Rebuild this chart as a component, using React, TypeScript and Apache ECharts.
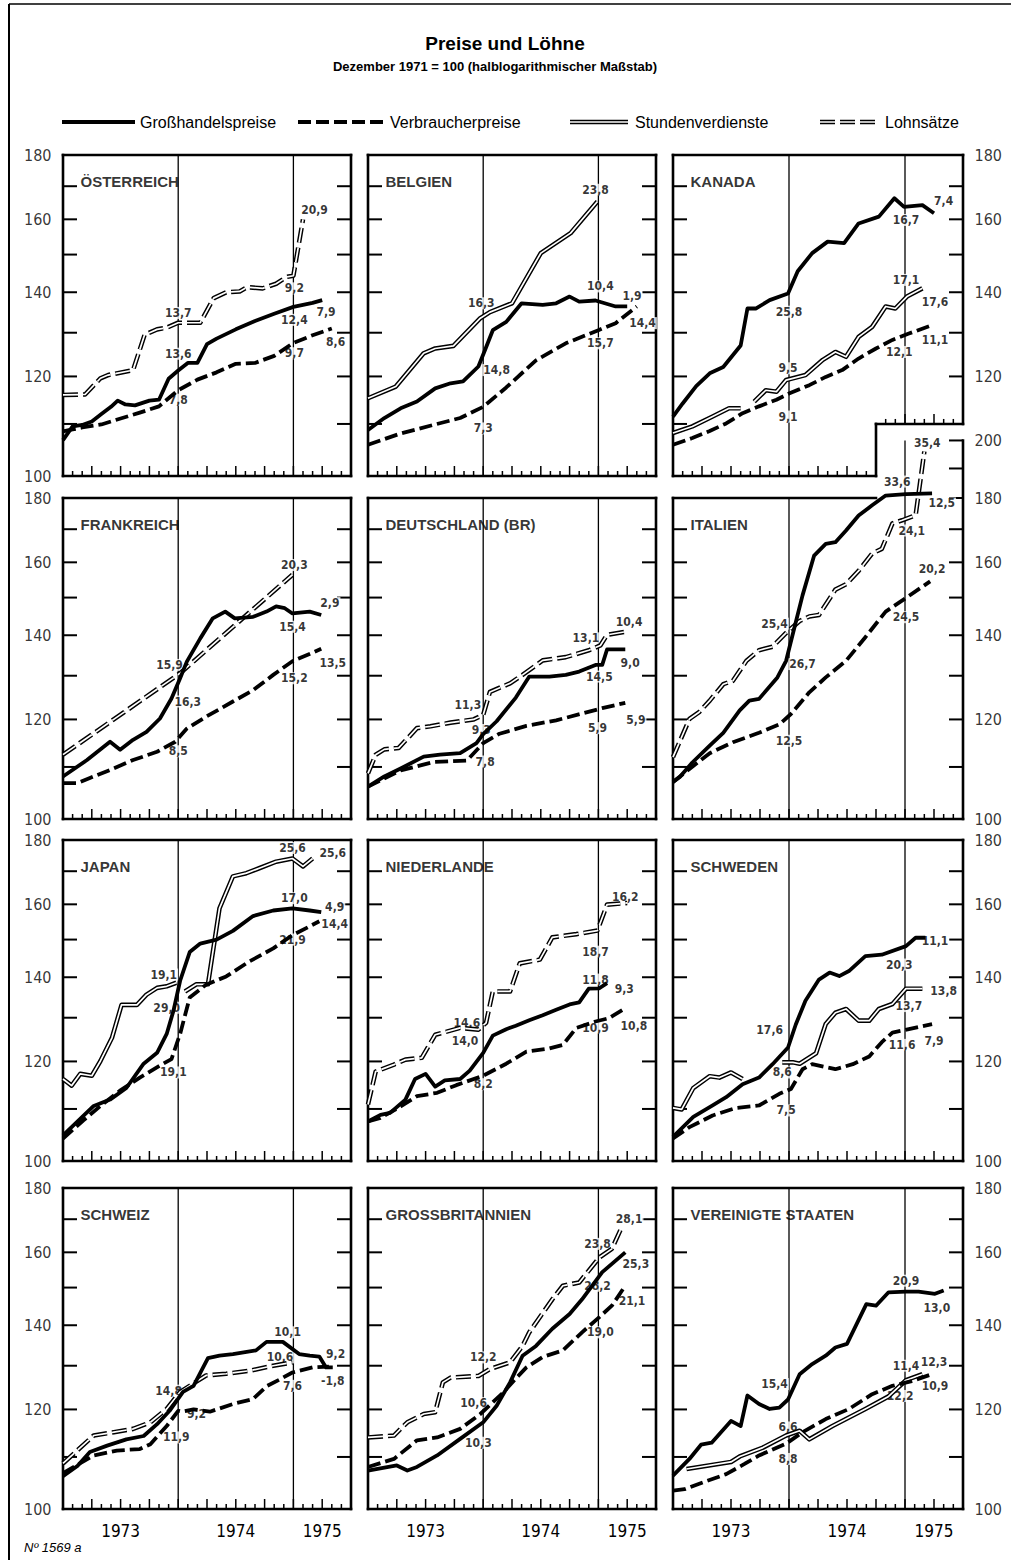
import React, { useEffect, useRef } from "react";
import * as echarts from "echarts";

const FONT_NARROW = '"Liberation Sans Narrow", "DejaVu Sans Condensed", "Liberation Sans", Arial, sans-serif';
const FONT = '"Liberation Sans", Arial, Helvetica, sans-serif';

// x = months after December 1972 (0) up to June 1975 (30); y = index, Dec 1971 = 100 (log scale)
const Y_LABELS = [100, 120, 140, 160, 180];
const Y_TICKS = [110, 120, 130, 140, 150, 160, 170];
const Y_TICKS_IT_EXT = [180, 190, 200];
const YEAR_LABELS: [number, string][] = [[6, "1973"], [18, "1974"], [27, "1975"]];
const DEC_LINES = [12, 24];
const CA_STEP: [number, number] = [21, 110];
const IT_TOP: [number, number] = [21, 200];
const LEGEND_NAMES = ["Großhandelspreise", "Verbraucherpreise", "Stundenverdienste", "Lohnsätze"];

// ---------- Österreich
const AT_GH = [[0,106.8],[1,109.5],[2,109.8],[3,110.5],[4,112],[5,113.5],[5.7,114.8],[6.5,114],[7.5,113.8],[9,114.8],[10,115],[11,119.5],[12,121.3],[13,123],[14,123],[15,127.3],[16,128.6],[18,130.8],[20,132.8],[22,134.6],[24,136.3],[26,137.3],[27,138]];
const AT_VP = [[0,108.5],[1,108.9],[2,109.3],[4,109.9],[6,111.1],[8,112.3],[10,113.6],[11,115.3],[12,117],[14,119.3],[16,120.9],[18,122.8],[20,123],[22,124.6],[24,127.6],[26,129.4],[28,131]];
const AT_LS = [[0,116],[2.3,116.1],[3.9,119.6],[4.7,120.3],[7.3,121.4],[8.5,129.5],[9.8,130.8],[10.8,131.2],[12,132.4],[14.3,132.4],[15.7,138.5],[17,140],[18.4,140.2],[19.2,141.3],[20.8,141],[22.2,142.2],[23.3,144],[24,144.3],[25,160]];
const AT_NOTES: [string, number, number][] = [["20,9",26.2,162.8],["9,2",24.1,141],["13,7",12,134.8],["13,6",12,125.1],["12,4",24.1,133.1],["7,9",27.4,135],["8,6",28.4,127.9],["9,7",24.1,125.2],["7,8",12,115]];

// ---------- Belgien
const BE_GH = [[0,108.8],[1.7,111.2],[3.4,113.2],[5.1,114.6],[7,117.4],[8.6,118.5],[9.9,118.9],[11.5,122.2],[12.2,126],[13,130.6],[14.4,132.6],[16,137.2],[18.2,136.8],[19.6,137.2],[21,138.9],[22,137.6],[23.7,137.9],[25.8,136.4],[27,136.4]];
const BE_VP = [[0,105.9],[3.4,108.1],[6.8,109.8],[9.6,111.2],[12,113.5],[14.4,117.6],[17.5,123.6],[20.6,127.5],[24,130.6],[25.8,132.3],[28,136.4]];
const BE_SV = [[0,115.3],[2.9,117.8],[5.8,125.2],[7,126.3],[8.9,126.9],[11.7,133.5],[12.7,135],[15,137.2],[18,150.4],[21.1,156],[23.9,165.3]];
const BE_NOTES: [string, number, number][] = [["23,8",23.7,168.9],["16,3",11.8,137.2],["14,8",13.4,121.4],["7,3",12,109.1],["10,4",24.2,141.5],["1,9",27.5,139],["14,4",28.6,132.3],["15,7",24.2,127.5]];

// ---------- Kanada
const CA_GH = [[0,111.5],[1,114.2],[2.4,117.9],[3.8,120.7],[5.2,122.1],[7,127],[7.7,135.9],[8.6,135.9],[10,138],[11.9,139.7],[12.9,145.5],[14.4,150.4],[16,153.6],[17.7,153.2],[19.2,158.8],[21.3,160.8],[22.9,166.3],[23.9,163.7],[25.8,164.2],[27,161.8]];
const CA_VP = [[0,105.9],[2,107.2],[3.8,108.6],[5.5,110.1],[7.2,112.2],[8.9,113.6],[10.7,115],[12,116.3],[14.1,118.1],[15.8,119.9],[17.5,121.4],[19.2,124],[21,126.3],[22.7,128.3],[24.4,129.8],[26.8,131.8]];
const CA_SV = [[0,108.2],[2,109.5],[4.1,111.5],[5.8,113.2],[7,113.2],[7.7,null],[8.4,114.6],[9.6,117],[10.7,116.7],[11.7,119.2],[13.7,120.3],[15.5,123.7],[16.8,125.5],[17.9,124.4],[19.2,129],[20.6,131.4],[22,136.4],[23,135.9],[24.2,138.9],[25.8,141]];
const CA_NOTES: [string, number, number][] = [["7,4",28,165.5],["16,7",24.1,159.8],["25,8",12,135.1],["17,1",24.1,143.2],["17,6",27.1,137.6],["9,5",11.9,121.8],["11,1",27.1,128.2],["12,1",23.4,125.5],["9,1",11.9,111.5]];

// ---------- Frankreich
const FR_GH = [[0,108.1],[2.5,111.4],[4.9,115.2],[5.95,113.5],[7.3,115.6],[8.7,117.3],[10.1,120.2],[11.3,124.7],[12.2,129.4],[12.9,133.4],[14.3,139.2],[15.6,144.4],[16.9,146.2],[17.9,144.4],[19.8,144.8],[21.2,146.2],[22.2,147.6],[23.1,147.1],[23.9,145.7],[25.7,146.2],[26.9,145.3]];
const FR_VP = [[0,106.8],[1.5,106.8],[2.8,107.8],[4.9,109.4],[7.3,111.4],[9.8,113.1],[11.7,115.2],[12.9,118],[14.9,120.6],[17.7,124],[19.8,126.6],[21.9,130.2],[23.9,133.5],[25.8,135.4],[26.9,136.6]];
const FR_LS = [[0,112.5],[12.2,130.6],[23.9,156.4]];
const FR_NOTES: [string, number, number][] = [["20,3",24.1,159.2],["2,9",27.8,148.5],["15,4",23.9,142.2],["15,9",11.1,132.6],["16,3",13,124],["13,5",28.1,133],["15,2",24.1,129.4],["8,5",12,113.2]];

// ---------- Deutschland (BR)
const DE_GH = [[0,106.1],[1.7,108.1],[3.4,109.7],[5.8,112.1],[7.5,112.5],[9.6,112.8],[11.3,114.9],[12,116.8],[13.4,119.6],[15.4,124.9],[16.8,129.8],[18.9,129.8],[20.6,130.2],[22,131],[23.7,132.6],[24.4,132.6],[24.9,136.4],[26.8,136.4]];
const DE_VP = [[0,106.1],[3.4,109.3],[6.8,111],[10.3,111.3],[12,114.9],[13.7,116.9],[16.5,118.6],[19.6,119.8],[22.3,121.3],[24.4,122.5],[26.8,123.7]];
const DE_LS = [[0,108.7],[0.8,112.5],[1.7,113.6],[3.2,113.9],[5.1,118.1],[6.5,118.5],[8.6,119.3],[11,120],[12,121],[12.7,126.2],[14.8,128.2],[16.1,130.2],[18.2,133.7],[20.6,134.5],[23,136.2],[24.2,137.4],[24.9,140.1],[26.8,140.9]];
const DE_NOTES: [string, number, number][] = [["10,4",27.2,143.5],["13,1",22.7,139.2],["9,0",27.3,133],["14,5",24.1,129.8],["11,3",10.4,123.2],["9,3",11.8,117.7],["5,9",27.9,119.9],["5,9",23.9,118.1],["7,8",12.2,111.1]];

// ---------- Italien
const IT_GH = [[0,107],[0.7,108],[2,110.9],[3.8,114.4],[5.2,117.1],[6.9,122],[7.9,124.2],[8.9,124.6],[10.8,129.6],[11.7,133.6],[12.4,140.4],[13.4,150.6],[14.6,162],[15.8,165.5],[16.8,166],[17.9,169.6],[19.2,174.3],[20.6,177.6],[22,180.8],[24.1,181.3],[26.8,181.5]];
const IT_VP = [[0,107],[1.7,109.6],[3.8,112.8],[6.2,115.1],[8.9,117.1],[11,118.9],[12.2,121.2],[14.1,126.1],[15.8,129.6],[17.9,133.6],[19.9,139.5],[22,146.2],[24.1,149.9],[26.6,154.5]];
const IT_LS = [[0,112],[1.7,120.1],[2.7,121.6],[3.8,124.2],[5.2,128],[6.2,128.8],[7.6,133.6],[8.9,136.2],[10.3,137.1],[11.7,140.6],[13.1,143.7],[14.1,144.9],[15.1,145.3],[16.8,152.2],[17.9,153.7],[19.2,157.5],[20.6,162.6],[21.6,164],[22.7,171.8],[23.7,172.8],[25.1,174.4],[26,196]];
const IT_NOTES: [string, number, number][] = [["35,4",26.3,199],["33,6",23.2,185.5],["12,5",27.8,178.2],["24,1",24.7,169.6],["20,2",26.8,158],["25,4",10.5,143],["24,5",24.1,144.7],["26,7",13.4,132.8],["12,5",12,115.4]];

// ---------- Japan
const JP_GH = [[0,104.8],[3.2,110.6],[4.9,111.9],[6.6,114.3],[8.4,119.5],[9.8,121.9],[10.8,126.2],[11.5,131.6],[12.2,139.1],[13.2,146.6],[14.3,148.9],[16,150],[17.7,152.4],[19.8,156.6],[21.9,158.2],[23.9,158.8],[25.7,158.2],[26.9,157.7]];
const JP_VP = [[0,104.2],[2.1,107.7],[3.9,110.6],[5.9,113.7],[8,116.5],[10.1,119.1],[11.3,120.5],[12.2,126.2],[13.2,134.9],[14.9,138.1],[17,140.2],[19.4,144.1],[21.9,147.6],[23.9,151.2],[26.7,155.1]];
const JP_SV = [[0,116.2],[0.9,114.8],[1.8,117.3],[3,116.9],[3.9,120.1],[5.1,125.3],[6.1,133.1],[7.7,133.1],[8.7,135.6],[9.8,137.3],[10.8,137.7],[11.8,138.6],[12.2,null],[12.7,136.4],[13.9,138.2],[15.1,138.2],[16.3,158.8],[17.7,168.4],[19.1,169.4],[20.5,171],[22.2,173],[23.9,174],[25,171.5],[26,174]];
const JP_NOTES: [string, number, number][] = [["25,6",23.9,177.4],["25,6",28.1,175.8],["17,0",24.1,161.8],["4,9",28.3,159.3],["14,4",28.3,154.2],["21,9",23.9,150],["19,1",10.5,140.7],["29,0",10.8,132.4],["19,1",11.5,117.6]];

// ---------- Niederlande
const NL_GH = [[0,107.5],[1.3,108.8],[2.3,109.2],[3.9,111.9],[4.9,116.2],[6,117.3],[7,114.6],[8,115.9],[9.6,116.2],[10.6,118],[12,121.9],[13,125.8],[14.4,127.3],[15.4,128.1],[16.8,129.4],[18.2,130.6],[19.6,131.9],[21,133.2],[22,133.7],[23,137.1],[24.1,137.2],[24.9,138.5]];
const NL_VP = [[0,107.5],[1.3,108.2],[3.4,110.5],[5.1,112.6],[7.2,113.3],[9.2,114.9],[12,116.9],[14.4,119.5],[16.5,122.2],[18.9,122.9],[20.3,123.7],[21.7,127.6],[23.7,129.1],[25.1,129.9],[26.8,132.3]];
const NL_LS = [[0,110.9],[0.8,117.8],[2.7,119.3],[3.9,120.4],[5.6,120.8],[7,126],[9.6,127.6],[11.5,127.2],[12.3,128.8],[13,136.4],[14.8,136.4],[15.8,143.6],[17.9,144.6],[19.2,150.6],[21.7,151.5],[23.9,152.5],[24.9,159.9],[27,160.4]];
const NL_NOTES: [string, number, number][] = [["16,2",26.8,162.3],["18,7",23.7,146.7],["11,8",23.7,139.4],["9,3",26.7,136.9],["10,8",27.7,128],["10,9",23.7,127.6],["14,6",10.3,128.8],["14,0",10.1,124.6],["8,2",12,115.1]];

// ---------- Schweden
const SE_GH = [[0,104.5],[2.1,108.4],[4.1,110.7],[5.5,112.4],[7.2,115.1],[8.9,116.5],[10.3,119.4],[11.9,123.1],[12.7,128.4],[13.7,134.1],[15.1,139.4],[16.2,141.2],[17.2,140.3],[18.2,141.6],[19.9,145.5],[21.6,145.9],[24.1,148.2],[25.1,150.5],[26.1,150.5]];
const SE_VP = [[0,104.2],[1.7,106.4],[4.1,108.7],[6.5,110.2],[8.9,110.7],[11,113.1],[12.2,114.1],[13.4,118.3],[14.4,119.4],[16.8,118.3],[18.6,119.4],[20.3,121.1],[21.6,124.3],[22.7,126.5],[24.4,127.3],[26.8,128.5]];
const SE_SV = [[0,110.2],[0.9,109.9],[2.1,114.3],[3.8,116.8],[4.8,116.5],[6,117.6],[7.2,116.2],[9,null],[11.3,119.8],[12.4,119.8],[13.1,119.5],[14.8,121.8],[15.8,128.5],[16.8,131.2],[17.9,132.1],[19.2,129.3],[20.3,129.3],[21.3,132.1],[22.7,133.3],[24.1,137.1],[25.8,137.1]];
const SE_NOTES: [string, number, number][] = [["11,1",27.1,149.5],["20,3",23.4,143.3],["13,8",28,136.5],["13,7",24.4,132.8],["17,6",10,127],["8,6",11.3,117.6],["11,6",23.7,123.7],["7,9",27,124.5],["7,5",11.7,109.7]];

// ---------- Schweiz
const CH_GH = [[0,106.2],[1.5,108.2],[2.8,111],[4.6,112.3],[6.6,113.6],[8.4,114.3],[9.8,116.8],[11.1,119.7],[12.5,123.9],[13.6,125.3],[14.3,128.3],[15.1,131.8],[16.3,132.4],[17.7,132.8],[20.1,133.7],[21.2,135.8],[22.9,135.8],[24.6,132.8],[25.7,132.4],[26.7,132.2],[27.4,129.6],[28.1,129.6]];
const CH_VP = [[0,106.8],[3.2,110.3],[5.6,111.3],[8,111.6],[9.1,112.6],[10.8,116.4],[12,119.7],[12.4,119.5],[13.6,120],[15.3,119.5],[17.7,121.2],[19.8,122.3],[21.2,125.2],[22.6,126.8],[23.9,128.4],[26,129.6],[27.7,129.8]];
const CH_LS = [[0,108.7],[3.2,114.4],[5.3,115.1],[7.3,115.8],[9.1,117.2],[10.8,120.1],[12.2,123.9],[13.2,125.3],[14.9,127.7],[17,128.1],[19.4,128.8],[21.9,130],[23.9,130.8]];
const CH_NOTES: [string, number, number][] = [["10,1",23.4,138.2],["9,2",28.4,132.8],["10,6",22.6,132],["-1,8",28.1,126.4],["7,6",23.9,125.3],["14,8",11,124.2],["9,2",13.9,119],["11,9",11.8,114]];

// ---------- Grossbritannien
const GB_GH = [[0,107.3],[3,108.3],[4.1,107.3],[5.1,108],[7.2,110.3],[9.6,113.7],[12,117.2],[13.4,120.8],[14.8,126.1],[16.1,132.4],[17.5,134.8],[19.2,139.1],[21,142.9],[22.3,146.8],[24.4,154.3],[26.8,160]];
const GB_VP = [[0,108],[2.7,109.6],[5.1,113.4],[7.2,114],[9.6,115.8],[11.7,119],[14.1,123.8],[15.4,127],[16.5,129.6],[18.2,132.1],[20.3,133.7],[22.3,138.2],[24.1,142.1],[25.4,145.1],[26.8,150.5]];
const GB_LS = [[0,114],[2.7,114.4],[4.1,117.2],[5.8,119],[7,119.4],[7.8,126.1],[8.6,127.2],[11.5,127.6],[12.7,129.2],[14.8,130.8],[16.1,134.8],[16.8,138.2],[19.2,146.8],[20.3,150.5],[22,151.4],[24.1,158.5],[25.4,161],[26.5,168]];
const GB_NOTES: [string, number, number][] = [["28,1",27.2,170],["23,8",23.9,162.5],["25,3",27.9,156.6],["28,2",23.9,150.5],["21,1",27.5,146.4],["19,0",24.2,138.2],["12,2",12,132],["10,6",11,121.4],["10,3",11.5,112.9]];

// ---------- Vereinigte Staaten
const US_GH = [[0,106.3],[1.7,109.6],[2.9,112.5],[4,112.9],[6,117.5],[7,116.4],[7.7,123.1],[8.9,121.2],[10,120.1],[11,120.4],[11.9,122.2],[13.1,128],[14.4,130.4],[15.8,132.4],[16.8,134.4],[18,135.3],[20,145.5],[21,145.1],[22.3,148.7],[24.1,148.9],[25.4,148.9],[27.1,148.3],[28,149.2]];
const US_VP = [[0,103.4],[1.2,103.7],[3.1,105],[5.5,106.6],[7.4,108.6],[8.9,110.3],[11.7,112.7],[13.4,115.1],[15.8,117.9],[18.2,120.1],[20.6,123.4],[22.7,125.3],[24.7,126.4],[26.8,128]];
const US_SV = [[1.4,107.6],[6,109],[6.9,110.1],[9.3,111.9],[11.7,114.4],[13.1,115.4],[14.1,113.6],[16.5,116.4],[19.9,120.1],[22.3,122.9],[24.1,126.6],[25.8,128]];
const US_NOTES: [string, number, number][] = [["20,9",24.1,151.9],["13,0",27.3,144.6],["15,4",10.5,125.7],["11,4",24.1,130],["12,3",27,130.8],["10,9",27.1,125.3],["12,2",23.5,123],["6,6",11.9,116.1],["8,8",11.9,109.6]];

type Panel = {
  title: string; gh: any[]; vp: any[]; wage: any[]; wageType: "SV" | "LS";
  notes: [string, number, number][]; shape?: "stepBottom" | "stepTop"; ymax?: number; rightLabels?: number[];
};

const PANELS: Panel[] = [
  { title: "ÖSTERREICH", gh: AT_GH, vp: AT_VP, wage: AT_LS, wageType: "LS", notes: AT_NOTES },
  { title: "BELGIEN", gh: BE_GH, vp: BE_VP, wage: BE_SV, wageType: "SV", notes: BE_NOTES },
  { title: "KANADA", gh: CA_GH, vp: CA_VP, wage: CA_SV, wageType: "SV", notes: CA_NOTES, shape: "stepBottom", rightLabels: [120, 140, 160, 180] },
  { title: "FRANKREICH", gh: FR_GH, vp: FR_VP, wage: FR_LS, wageType: "LS", notes: FR_NOTES },
  { title: "DEUTSCHLAND (BR)", gh: DE_GH, vp: DE_VP, wage: DE_LS, wageType: "LS", notes: DE_NOTES },
  { title: "ITALIEN", gh: IT_GH, vp: IT_VP, wage: IT_LS, wageType: "LS", notes: IT_NOTES, shape: "stepTop", ymax: 200, rightLabels: [100, 120, 140, 160, 180, 200] },
  { title: "JAPAN", gh: JP_GH, vp: JP_VP, wage: JP_SV, wageType: "SV", notes: JP_NOTES },
  { title: "NIEDERLANDE", gh: NL_GH, vp: NL_VP, wage: NL_LS, wageType: "LS", notes: NL_NOTES },
  { title: "SCHWEDEN", gh: SE_GH, vp: SE_VP, wage: SE_SV, wageType: "SV", notes: SE_NOTES },
  { title: "SCHWEIZ", gh: CH_GH, vp: CH_VP, wage: CH_LS, wageType: "LS", notes: CH_NOTES },
  { title: "GROSSBRITANNIEN", gh: GB_GH, vp: GB_VP, wage: GB_LS, wageType: "LS", notes: GB_NOTES },
  { title: "VEREINIGTE STAATEN", gh: US_GH, vp: US_VP, wage: US_SV, wageType: "SV", notes: US_NOTES },
];

// layout (pixels)
const COL_X = [63, 368, 673];
const COL_W = [288, 288, 290];
const ROW_Y = [155, 498, 840, 1188];
const ROW_H = 321;

const DASH_VP = [13, 5];
const DASH_LS = [15, 5];

function frameItems(shape?: string) {
  const out: number[][] = [];
  const seg = (k: number, a: number, b: number, c: number, d: number) => out.push([k, a, b, c, d]);
  const [sm, sv] = shape === "stepBottom" ? CA_STEP : shape === "stepTop" ? IT_TOP : [30, 180];
  seg(0, 0, 100, 0, 180);
  if (shape === "stepBottom") {
    seg(0, 0, 180, 30, 180);
    seg(0, 30, sv, 30, 180);
    seg(0, 0, 100, sm, 100);
    seg(0, sm, 100, sm, sv);
    seg(0, sm, sv, 30, sv);
  } else if (shape === "stepTop") {
    seg(0, 0, 180, sm, 180);
    seg(0, 30, 100, 30, sv);
    seg(0, 0, 100, 30, 100);
  } else {
    seg(0, 0, 180, 30, 180);
    seg(0, 30, 100, 30, 180);
    seg(0, 0, 100, 30, 100);
  }
  DEC_LINES.forEach((m) => {
    const lo = shape === "stepBottom" && m > sm ? sv : 100;
    const hi = shape === "stepTop" && m > sm ? sv : 180;
    seg(1, m, lo, m, hi);
  });
  Y_TICKS.forEach((v) => {
    seg(2, 0, v, 0, v);
    if (!(shape === "stepBottom" && v <= sv)) seg(3, 30, v, 30, v);
  });
  if (shape === "stepTop") Y_TICKS_IT_EXT.forEach((v) => seg(3, 30, v, 30, v));
  for (let m = 1; m < 30; m++) {
    if (shape === "stepBottom" && m === sm) continue;
    const base = shape === "stepBottom" && m > sm ? sv : 100;
    seg(m % 3 === 0 ? 5 : 4, m, base, m, base);
  }
  return out;
}

function renderFrame(params: any, api: any) {
  const k = api.value(0);
  const p1 = api.coord([api.value(1), api.value(2)]);
  let p2: number[];
  if (k === 0 || k === 1) p2 = api.coord([api.value(3), api.value(4)]);
  else if (k === 2) p2 = [p1[0] + 14, p1[1]];
  else if (k === 3) p2 = [p1[0] - 14, p1[1]];
  else if (k === 4) p2 = [p1[0], p1[1] - 5];
  else p2 = [p1[0], p1[1] - 10];
  const w = k === 0 ? 2.6 : k === 1 ? 1.3 : k <= 3 ? 2 : 1.5;
  return {
    type: "line",
    shape: { x1: p1[0], y1: p1[1], x2: p2[0], y2: p2[1] },
    style: { stroke: "#000", lineWidth: w, lineCap: k === 0 ? "square" : "butt" },
  };
}

function buildOption() {
  const grid: any[] = [], xAxis: any[] = [], yAxis: any[] = [], series: any[] = [];
  const yearMap: Record<number, string> = {};
  YEAR_LABELS.forEach(([m, t]) => (yearMap[m] = t));

  PANELS.forEach((p, i) => {
    const col = i % 3, row = Math.floor(i / 3);
    const ymax = p.ymax || 180;
    let top = ROW_Y[row], height = ROW_H;
    if (ymax !== 180) {
      const ext = (ROW_H * Math.log(ymax / 180)) / Math.log(180 / 100);
      top -= ext; height += ext;
    }
    grid.push({ left: COL_X[col], top, width: COL_W[col], height, show: false });
    xAxis.push({
      gridIndex: i, type: "value", min: 0, max: 30, interval: 3,
      axisLine: { show: false }, axisTick: { show: false }, splitLine: { show: false },
      axisLabel: row === 3
        ? { show: true, formatter: (v: number) => yearMap[v] || "", fontSize: 17, color: "#000", margin: 13, fontFamily: FONT_NARROW }
        : { show: false },
    });
    yAxis.push({
      gridIndex: i, type: "log", logBase: 10, min: 100, max: ymax,
      axisLine: { show: false }, axisTick: { show: false }, axisLabel: { show: false }, splitLine: { show: false },
    });
    const ax = { xAxisIndex: i, yAxisIndex: i };

    series.push({
      type: "custom", ...ax, silent: true, z: 1, clip: false,
      dimensions: ["k", "x", "y", "x2", "y2"], encode: { x: 1, y: 2 },
      data: frameItems(p.shape), renderItem: renderFrame,
    });

    // y axis labels
    let yl: any[] = [];
    if (col === 0) yl = Y_LABELS.map((v) => ({ name: String(v), value: [0, v], label: { position: "left", distance: 11 } }));
    if (col === 2) yl = (p.rightLabels || Y_LABELS).map((v) => ({ name: String(v), value: [30, v], label: { position: "right", distance: 11 } }));
    if (yl.length)
      series.push({
        type: "scatter", ...ax, silent: true, z: 2, clip: false, symbolSize: 1, itemStyle: { color: "transparent" },
        data: yl, label: { show: true, formatter: "{b}", fontSize: 16, color: "#000", fontFamily: FONT_NARROW },
      });

    // panel title
    series.push({
      type: "scatter", ...ax, silent: true, z: 2, clip: false, symbolSize: 1, itemStyle: { color: "transparent" },
      data: [{ name: p.title, value: [0, 170] }],
      label: { show: true, position: "right", distance: 17, offset: [0, -5], formatter: "{b}", fontSize: 15, fontWeight: "bold", color: "#000", fontFamily: FONT },
    });

    // change annotations
    series.push({
      type: "scatter", ...ax, silent: true, z: 2, clip: false, symbolSize: 1, itemStyle: { color: "transparent" },
      data: p.notes.map(([t, m, v]) => ({ name: t, value: [m, v] })),
      label: { show: true, position: "inside", formatter: "{b}", fontSize: 12, fontWeight: "bold", color: "#000", fontFamily: FONT_NARROW, backgroundColor: "#fff", padding: [0, 1] },
    });

    const dash = p.wageType === "LS" ? DASH_LS : "solid";
    const base = { type: "line", ...ax, silent: true, symbol: "none", showSymbol: false, connectNulls: false, animation: false };
    series.push({ ...base, name: p.wageType === "LS" ? LEGEND_NAMES[3] : LEGEND_NAMES[2], data: p.wage, z: 3, lineStyle: { color: "#000", width: 4.6, type: dash, join: "round" } });
    series.push({ ...base, data: p.wage, z: 4, lineStyle: { color: "#fff", width: 1.7, type: dash, join: "round" } });
    series.push({ ...base, name: LEGEND_NAMES[1], data: p.vp, z: 5, lineStyle: { color: "#000", width: 3.8, type: DASH_VP, join: "round" } });
    series.push({ ...base, name: LEGEND_NAMES[0], data: p.gh, z: 6, lineStyle: { color: "#000", width: 3.8, type: "solid", join: "round" } });
  });

  const txt = (x: number, y: number, text: string, size: number, weight: string, align = "left", style = "normal", family = FONT) => ({
    type: "text", x, y, silent: true,
    style: { text, fill: "#000", fontSize: size, fontWeight: weight, fontStyle: style, fontFamily: family, align, verticalAlign: "middle", textAlign: align, textVerticalAlign: "middle" },
  });
  const ln = (x1: number, x2: number, y: number, w: number, color: string, dash?: number[]) => ({
    type: "line", silent: true, shape: { x1, y1: y, x2, y2: y },
    style: { stroke: color, lineWidth: w, lineDash: dash || null },
  });
  const LY = 122;
  const graphic = [
    { type: "line", silent: true, shape: { x1: 9, y1: 4, x2: 1011, y2: 4 }, style: { stroke: "#000", lineWidth: 1.5 } },
    { type: "line", silent: true, shape: { x1: 9, y1: 4, x2: 9, y2: 1560 }, style: { stroke: "#000", lineWidth: 2 } },
    txt(505, 43, "Preise und Löhne", 19, "bold", "center"),
    txt(495, 66, "Dezember 1971 = 100 (halblogarithmischer Maßstab)", 13, "bold", "center"),
    ln(62, 135, LY, 3.8, "#000"),
    txt(140, LY, LEGEND_NAMES[0], 16, "500"),
    ln(298, 385, LY, 3.8, "#000", DASH_VP),
    txt(390, LY, LEGEND_NAMES[1], 16, "500"),
    ln(570, 628, LY, 4.6, "#000"),
    ln(570, 628, LY, 1.7, "#fff"),
    txt(635, LY, LEGEND_NAMES[2], 16, "500"),
    ln(820, 880, LY, 4.6, "#000", DASH_LS),
    ln(820, 880, LY, 1.7, "#fff", DASH_LS),
    txt(885, LY, LEGEND_NAMES[3], 16, "500"),
    txt(24, 1547, "Nº 1569 a", 13, "normal", "left", "italic"),
  ];

  return { animation: false, backgroundColor: "#fff", grid, xAxis, yAxis, series, graphic };
}

export default function App() {
  const ref = useRef<HTMLDivElement>(null);
  useEffect(() => {
    if (!ref.current) return;
    const chart = echarts.init(ref.current, undefined, { renderer: "svg" });
    chart.setOption(buildOption() as any);
    return () => chart.dispose();
  }, []);
  return <div ref={ref} style={{ position: "absolute", left: 0, top: 0, width: 1011, height: 1560, background: "#fff" }} />;
}
